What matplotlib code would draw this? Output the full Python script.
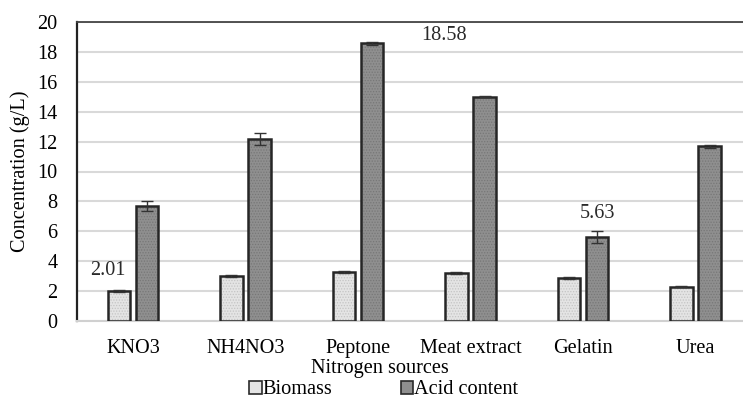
import matplotlib
matplotlib.use("Agg")
import matplotlib.pyplot as plt
import numpy as np
from matplotlib.patches import Patch

categories = ["KNO3", "NH4NO3", "Peptone", "Meat extract", "Gelatin", "Urea"]
biomass = [2.01, 3.0, 3.3, 3.2, 2.9, 2.3]
biomass_err = [0.05, 0.06, 0.07, 0.05, 0.07, 0.05]
acid = [7.7, 12.2, 18.58, 15.0, 5.63, 11.7]
acid_err = [0.35, 0.4, 0.1, 0.05, 0.38, 0.1]
yticks = list(range(0, 21, 2))

plt.rcParams['font.family'] = ['Liberation Serif', 'DejaVu Serif']
plt.rcParams['hatch.linewidth'] = 0.6
FS = 14.6

fig = plt.figure(figsize=(7.43, 4.0), dpi=100)
x0 = 76.75 / 743
x1 = 751.75 / 743
ax = fig.add_axes([x0, 79 / 400, x1 - x0, (321 - 22) / 400])

x = np.arange(len(categories))
w = 0.2
off = 0.125

# fills with dotted texture
ax.bar(x - off, biomass, w, color="#e4e4e4", hatch="......", edgecolor="#c4c4c4", lw=0, zorder=2)
ax.bar(x + off, acid, w, color="#8f8f8f", hatch="......", edgecolor="#777777", lw=0, zorder=2)
# outlines
ax.bar(x - off, biomass, w, facecolor="none", edgecolor="#262626", lw=1.8, zorder=3)
ax.bar(x + off, acid, w, facecolor="none", edgecolor="#262626", lw=1.8, zorder=3)
ax.errorbar(x - off, biomass, yerr=biomass_err, fmt="none", ecolor="#333333", elinewidth=1, capsize=4, capthick=1, zorder=4)
ax.errorbar(x + off, acid, yerr=acid_err, fmt="none", ecolor="#333333", elinewidth=1, capsize=4, capthick=1, zorder=4)

# annotations
ax.text(x[0] - off - 0.1, biomass[0] + 1.4, f"{biomass[0]:.2f}", ha="center", va="center", fontsize=FS, color="#2a2a2a")
ax.text(x[2] + off + 0.64, acid[2] + 0.55, f"{acid[2]:.2f}", ha="center", va="center", fontsize=FS, color="#2a2a2a")
ax.text(x[4] + off, acid[4] + 1.55, f"{acid[4]:.2f}", ha="center", va="center", fontsize=FS, color="#2a2a2a")

ax.set_xlim(-0.5, len(categories) - 0.5)
ax.set_ylim(0, 20)
ax.set_yticks(yticks)
ax.set_xticks(x)
ax.set_xticklabels(categories, fontsize=FS)
ax.tick_params(axis="y", length=0, pad=14, labelsize=FS)
ax.tick_params(axis="x", length=0, pad=13)
ax.yaxis.grid(True, color="#d9d9d9", lw=1.5, zorder=0)
ax.set_axisbelow(True)

ax.spines["left"].set_color("#222222")
ax.spines["left"].set_linewidth(1.6)
ax.spines["top"].set_color("#444444")
ax.spines["top"].set_linewidth(1.3)
ax.spines["right"].set_visible(False)
ax.spines["bottom"].set_color("#d0d0d0")
ax.spines["bottom"].set_linewidth(1.5)

fig.text(20 / 743, 1 - 171.5 / 400, "Concentration (g/L)", rotation=90, ha="center", va="center", fontsize=FS)
fig.text(380 / 743, 1 - 368 / 400, "Nitrogen sources", ha="center", va="center", fontsize=FS)

handles = [Patch(facecolor="#e4e4e4", edgecolor="#2a2a2a", lw=1.2, label="Biomass"),
           Patch(facecolor="#8f8f8f", edgecolor="#2a2a2a", lw=1.2, label="Acid content")]
fig.legend(handles=handles, loc="center", bbox_to_anchor=(384 / 743, 1 - 390 / 400), ncol=2, frameon=False,
           fontsize=FS, handlelength=0.6, handleheight=0.6, handletextpad=0.05, columnspacing=3.4, borderpad=0)

fig.savefig("out.png", dpi=100)
